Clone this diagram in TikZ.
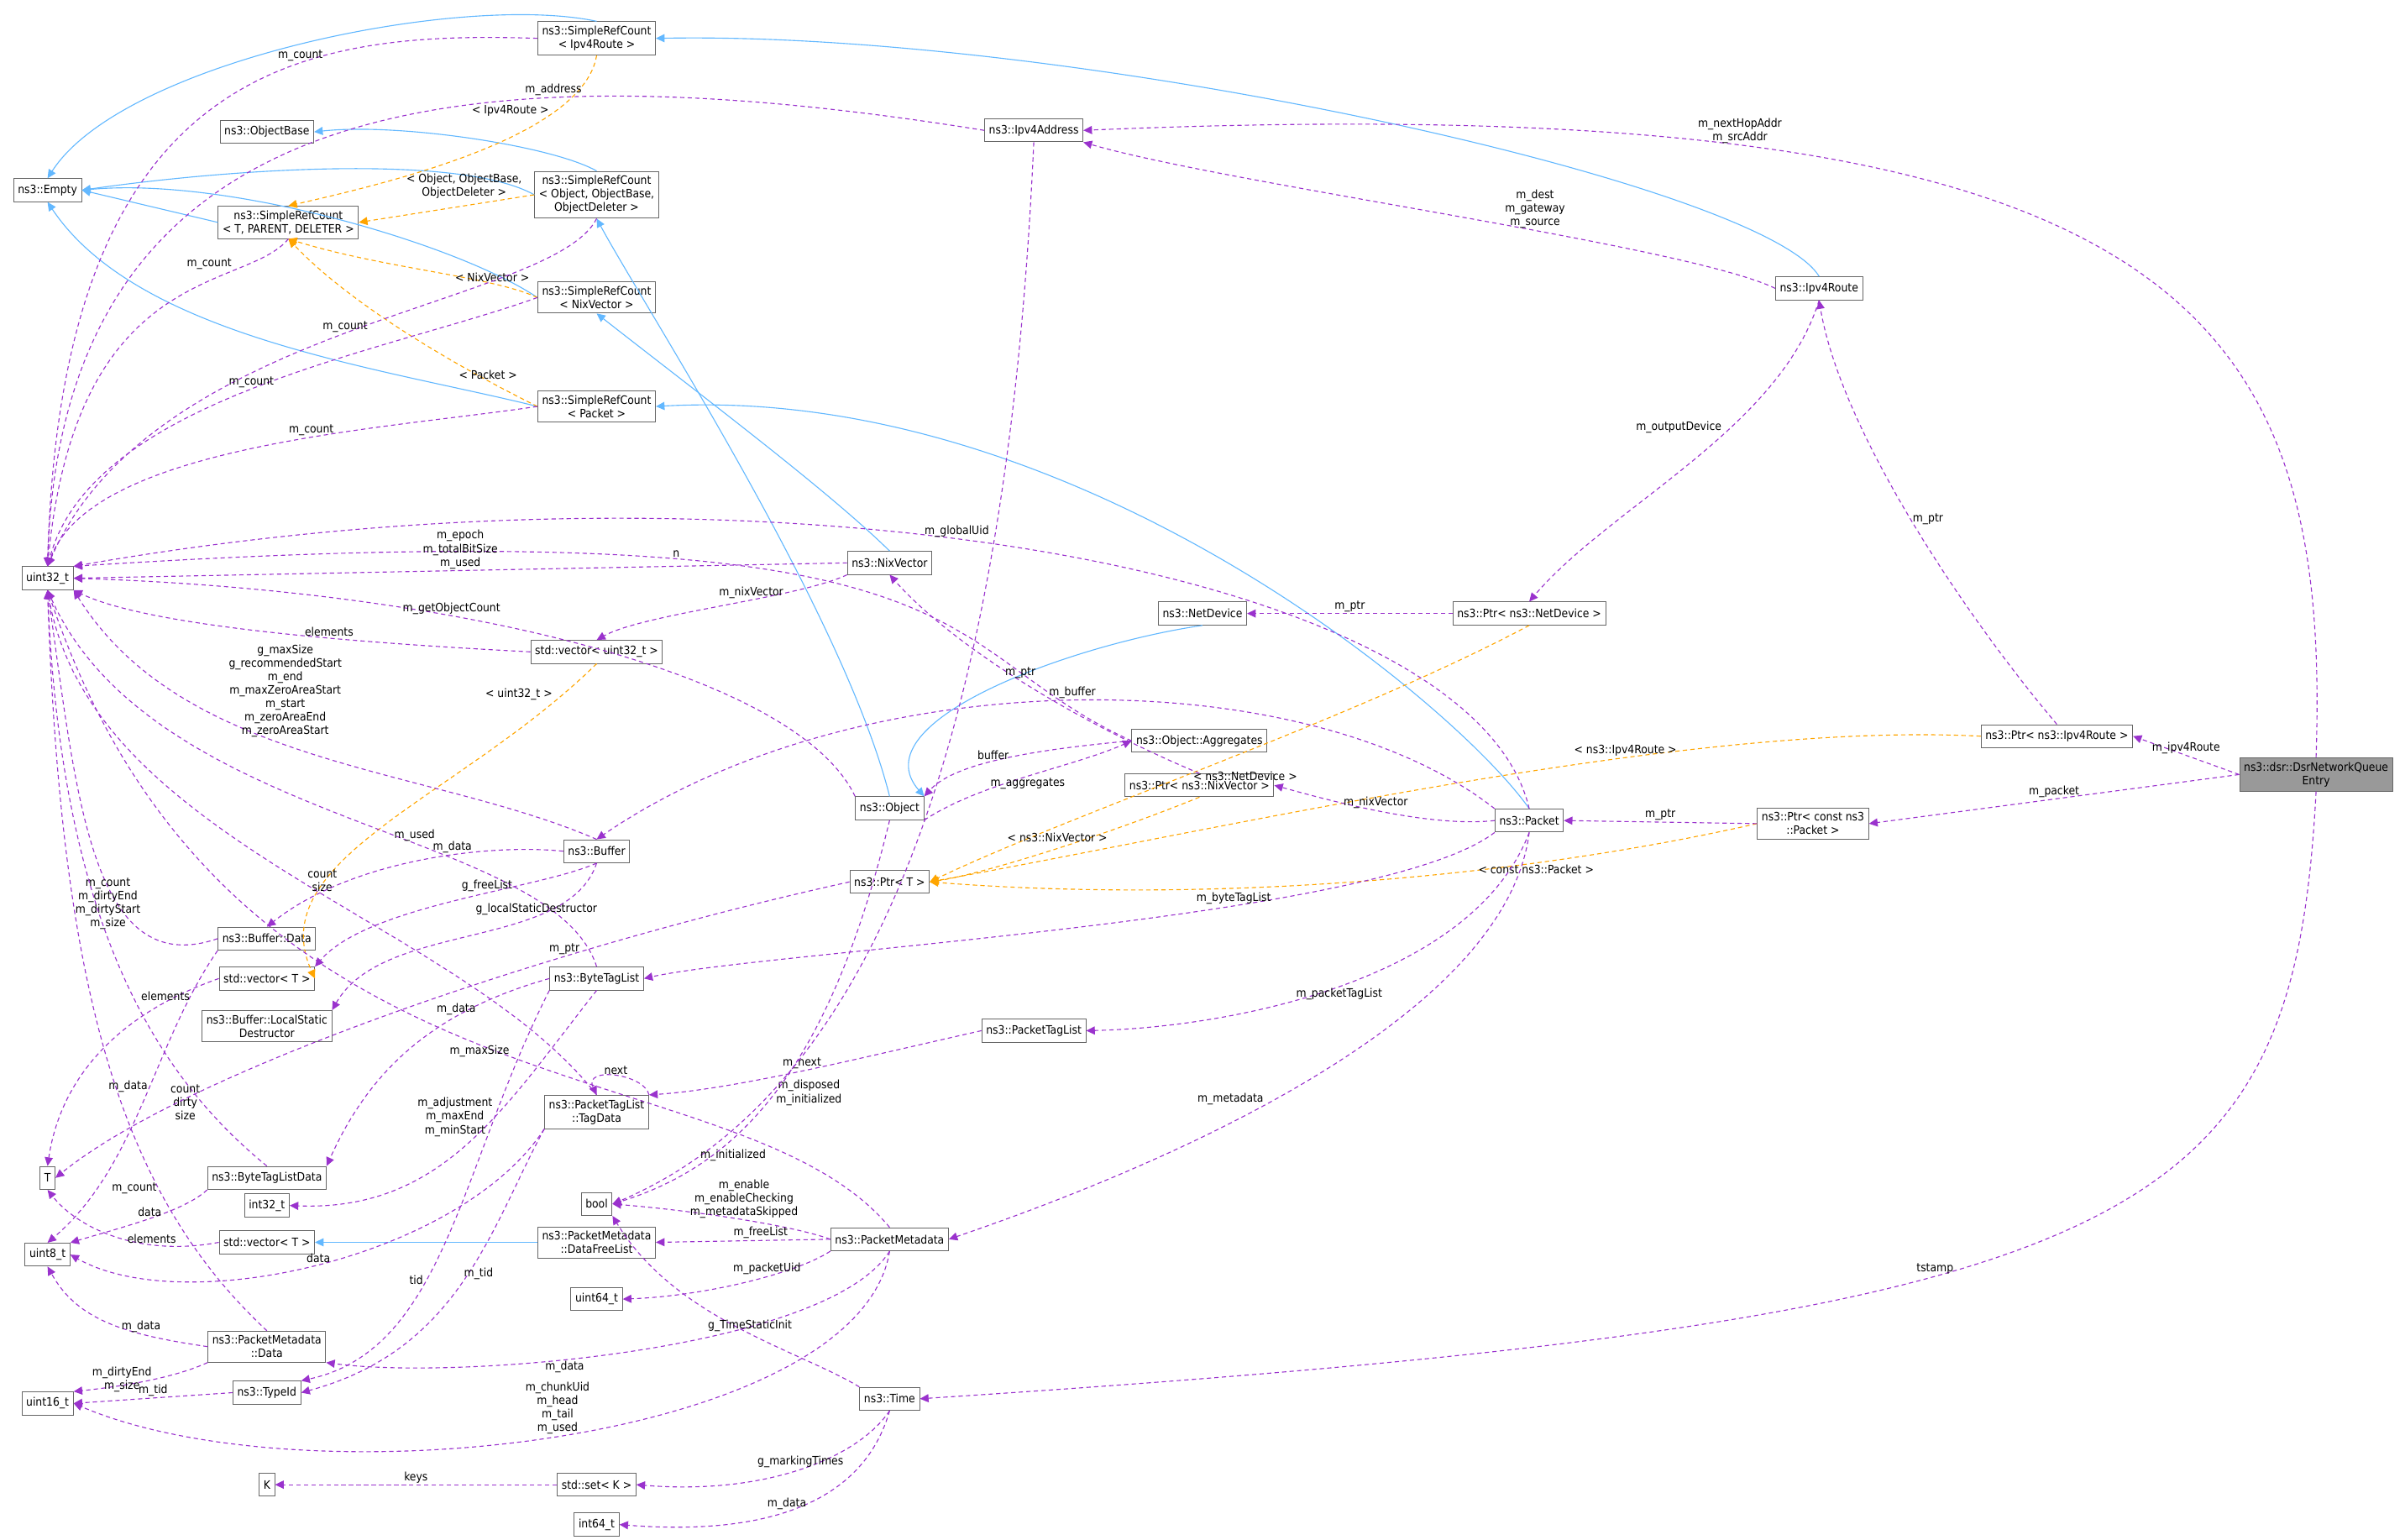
\documentclass[tikz,border=0pt]{standalone}
\usepackage{fontspec}
\setmainfont{DejaVu Sans Condensed}
\usetikzlibrary{arrows.meta}
\definecolor{mbr}{HTML}{9A32CD}
\definecolor{inh}{HTML}{63B8FF}
\definecolor{tpl}{HTML}{FFA500}
\begin{document}
\begin{tikzpicture}[
        x={(0.02cm,0)}, y={(0,-0.02cm)},
        font=\fontsize{4.3}{5}\selectfont,
        cls/.style={rectangle, draw=black!60, fill=white, inner sep=1.6pt, minimum height=0.3cm, align=center, line width=0.3pt},
        focus/.style={cls, fill=black!40},
        member/.style={-{Triangle[length=3.2pt,width=3pt]}, draw=mbr, dash pattern=on 1.6pt off 1.2pt, line width=0.35pt},
        derive/.style={-{Triangle[length=3.2pt,width=3pt]}, draw=inh, line width=0.35pt},
        templ/.style={-{Triangle[length=3.2pt,width=3pt]}, draw=tpl, dash pattern=on 1.6pt off 1.2pt, line width=0.35pt},
        lbl/.style={align=center, inner sep=0.5pt}
    ]
        \useasboundingbox (0,0) rectangle (1568,1004);

        % Classes, left column
        \node[cls] (empty) at (31,124) {ns3::Empty};
        \node[cls] (uint32) at (31,377) {uint32\_t};
        \node[cls] (tt) at (31,768) {T};
        \node[cls] (uint8) at (31,818) {uint8\_t};
        \node[cls] (uint16) at (31,915) {uint16\_t};

        % Classes, second column
        \node[cls] (objbase) at (174,86) {ns3::ObjectBase};
        \node[cls] (srct) at (188,145) {ns3::SimpleRefCount\\< T, PARENT, DELETER >};
        \node[cls] (bufdata) at (174,612) {ns3::Buffer::Data};
        \node[cls] (vect) at (174,638) {std::vector< T >};
        \node[cls] (localdtor) at (174,669) {ns3::Buffer::LocalStatic\\Destructor};
        \node[cls] (btldata) at (174,768) {ns3::ByteTagListData};
        \node[cls] (int32) at (174,786) {int32\_t};
        \node[cls] (vect2) at (174,810) {std::vector< T >};
        \node[cls] (pmdata) at (174,878) {ns3::PacketMetadata\\::Data};
        \node[cls] (typeid) at (174,908) {ns3::TypeId};
        \node[cls] (kk) at (174,968) {K};

        % Classes, third column
        \node[cls] (srcipv4) at (389,25) {ns3::SimpleRefCount\\< Ipv4Route >};
        \node[cls] (srcobj) at (389,127) {ns3::SimpleRefCount\\< Object, ObjectBase,\\ObjectDeleter >};
        \node[cls] (srcnix) at (389,194) {ns3::SimpleRefCount\\< NixVector >};
        \node[cls] (srcpkt) at (389,265) {ns3::SimpleRefCount\\< Packet >};
        \node[cls] (vecu32) at (389,425) {std::vector< uint32\_t >};
        \node[cls] (buffer) at (389,555) {ns3::Buffer};
        \node[cls] (btl) at (389,638) {ns3::ByteTagList};
        \node[cls] (tagdata) at (389,725) {ns3::PacketTagList\\::TagData};
        \node[cls] (bool) at (389,785) {bool};
        \node[cls] (freelist) at (389,810) {ns3::PacketMetadata\\::DataFreeList};
        \node[cls] (uint64) at (389,847) {uint64\_t};
        \node[cls] (setk) at (389,968) {std::set< K >};
        \node[cls] (int64) at (389,994) {int64\_t};

        % Classes, fourth column
        \node[cls] (ipv4addr) at (674,85) {ns3::Ipv4Address};
        \node[cls] (nixvec) at (580,367) {ns3::NixVector};
        \node[cls] (object) at (580,527) {ns3::Object};
        \node[cls] (ptrt) at (580,575) {ns3::Ptr< T >};
        \node[cls] (ptl) at (674,672) {ns3::PacketTagList};
        \node[cls] (pktmeta) at (580,808) {ns3::PacketMetadata};
        \node[cls] (time) at (580,912) {ns3::Time};

        % Classes, fifth column
        \node[cls] (netdev) at (784,400) {ns3::NetDevice};
        \node[cls] (aggr) at (782,483) {ns3::Object::Aggregates};
        \node[cls] (ptrnix) at (782,512) {ns3::Ptr< ns3::NixVector >};
        \node[cls] (ptrdev) at (997,400) {ns3::Ptr< ns3::NetDevice >};
        \node[cls] (packet) at (997,535) {ns3::Packet};

        % Classes, right side
        \node[cls] (ipv4route) at (1186,188) {ns3::Ipv4Route};
        \node[cls] (ptrroute) at (1341,480) {ns3::Ptr< ns3::Ipv4Route >};
        \node[cls] (ptrpkt) at (1182,537) {ns3::Ptr< const ns3\\::Packet >};
        \node[focus] (entry) at (1510,505) {ns3::dsr::DsrNetworkQueue\\Entry};

        % Inheritance
        \draw[derive] (srcipv4.north) .. controls (300,-5) and (80,40) .. (empty.north);
        \draw[derive] (srcobj.west) .. controls (300,100) and (150,110) .. (empty.east);
        \draw[derive] (srcobj.north) .. controls (360,95) and (260,80) .. (objbase.east);
        \draw[derive] (srct.west) -- (empty.east);
        \draw[derive] (srcnix.west) .. controls (300,160) and (150,115) .. (empty.east);
        \draw[derive] (srcpkt.west) .. controls (250,240) and (90,220) .. (empty.south);
        \draw[derive] (ipv4route.north) .. controls (1150,120) and (700,20) .. (srcipv4.east);
        \draw[derive] (nixvec.north) .. controls (540,320) and (460,260) .. (srcnix.south);
        \draw[derive] (object.north) .. controls (550,400) and (420,200) .. (srcobj.south);
        \draw[derive] (packet.north) .. controls (950,460) and (700,250) .. (srcpkt.east);
        \draw[derive] (netdev.south) .. controls (700,420) and (560,470) .. (object.north east);
        \draw[derive] (freelist.west) -- (vect2.east);

        % Template instances
        \draw[templ] (srcipv4.south) .. controls (380,90) and (250,120) .. node[lbl,pos=.25,left=2pt]{< Ipv4Route >} (srct.north);
        \draw[templ] (srcobj.west) -- node[lbl,pos=.4,above=2pt]{< Object, ObjectBase,\\ObjectDeleter >} (srct.east);
        \draw[templ] (srcnix.west) .. controls (320,180) and (250,175) .. node[lbl,pos=.25,above]{< NixVector >} (srct.south);
        \draw[templ] (srcpkt.west) .. controls (300,240) and (230,200) .. node[lbl,pos=.2,above]{< Packet >} (srct.south);
        \draw[templ] (vecu32.south) .. controls (300,520) and (170,560) .. node[lbl,pos=.1,above left]{< uint32\_t >} (vect.east);
        \draw[templ] (ptrdev.south) .. controls (880,470) and (700,530) .. node[lbl,pos=.55,right=3pt]{< ns3::NetDevice >} (ptrt.east);
        \draw[templ] (ptrroute.west) .. controls (1100,470) and (800,540) .. node[lbl,pos=.35,above]{< ns3::Ipv4Route >} (ptrt.east);
        \draw[templ] (ptrnix.south) .. controls (720,545) and (640,570) .. node[lbl,pos=.3,below left]{< ns3::NixVector >} (ptrt.east);
        \draw[templ] (ptrpkt.west) .. controls (1000,570) and (800,590) .. node[lbl,pos=.3,below]{< const ns3::Packet >} (ptrt.east);

        % Members pointing to uint32_t
        \draw[member] (srcipv4.west) .. controls (200,20) and (40,40) .. node[lbl,pos=.35,above]{m\_count} (uint32.north);
        \draw[member] (srct.south) .. controls (160,190) and (50,170) .. node[lbl,pos=.2,left=6pt]{m\_count} (uint32.north);
        \draw[member] (srcobj.south) .. controls (360,200) and (100,210) .. node[lbl,pos=.5,above]{m\_count} (uint32.north);
        \draw[member] (srcnix.west) .. controls (250,230) and (60,260) .. node[lbl,pos=.5,above]{m\_count} (uint32.north);
        \draw[member] (srcpkt.west) .. controls (250,280) and (60,290) .. node[lbl,pos=.4,above]{m\_count} (uint32.north);
        \draw[member] (ipv4addr.west) .. controls (300,30) and (40,60) .. node[lbl,pos=.3,above]{m\_address} (uint32.north);
        \draw[member] (packet.north) .. controls (960,370) and (500,290) .. node[lbl,pos=.55,above]{m\_globalUid} (uint32.north east);
        \draw[member] (aggr.west) .. controls (600,420) and (660,330) .. node[lbl,pos=.7,above]{n} (uint32.north east);
        \draw[member] (nixvec.west) -- node[lbl,pos=.5,above]{m\_epoch\\m\_totalBitSize\\m\_used} (uint32.east);
        \draw[member] (object.north west) .. controls (520,440) and (300,385) .. node[lbl,pos=.65,above]{m\_getObjectCount} (uint32.east);
        \draw[member] (vecu32.west) .. controls (250,420) and (100,410) .. node[lbl,pos=.4,above]{elements} (uint32.south east);
        \draw[member] (buffer.north) .. controls (280,500) and (120,500) .. node[lbl,pos=.55,above=2pt]{g\_maxSize\\g\_recommendedStart\\m\_end\\m\_maxZeroAreaStart\\m\_start\\m\_zeroAreaEnd\\m\_zeroAreaStart} (uint32.south east);
        \draw[member] (btl.north) .. controls (360,540) and (100,540) .. node[lbl,pos=.4,above]{m\_used} (uint32.south);
        \draw[member] (tagdata.north) .. controls (300,600) and (60,550) .. node[lbl,pos=.45,above]{count\\size} (uint32.south);
        \draw[member] (bufdata.west) .. controls (60,640) and (50,520) .. node[lbl,pos=.25,above left]{m\_count\\m\_dirtyEnd\\m\_dirtyStart\\m\_size} (uint32.south);
        \draw[member] (btldata.north) .. controls (100,700) and (40,600) .. node[lbl,pos=.2,left]{count\\dirty\\size} (uint32.south);
        \draw[member] (pmdata.north) .. controls (80,780) and (40,650) .. node[lbl,pos=.3,left]{m\_count} (uint32.south);
        \draw[member] (pktmeta.north) .. controls (480,680) and (150,740) .. node[lbl,pos=.5,below]{m\_maxSize} (uint32.south);

        % Members on the right
        \draw[member] (entry.north) .. controls (1520,200) and (1420,55) .. node[lbl,pos=.75,above]{m\_nextHopAddr\\m\_srcAddr} (ipv4addr.east);
        \draw[member] (ipv4route.west) .. controls (1100,160) and (800,120) .. node[lbl,pos=.4,above]{m\_dest\\m\_gateway\\m\_source} (ipv4addr.south east);
        \draw[member] (ipv4route.south) .. controls (1160,280) and (1050,330) .. node[lbl,pos=.4,above left]{m\_outputDevice} (ptrdev.north);
        \draw[member] (ptrdev.west) -- node[lbl,pos=.5,above]{m\_ptr} (netdev.east);
        \draw[member] (ptrroute.north) .. controls (1280,400) and (1200,280) .. node[lbl,pos=.5,right]{m\_ptr} (ipv4route.south);
        \draw[member] (entry.west) -- node[lbl,pos=.5,above]{m\_ipv4Route} (ptrroute.east);
        \draw[member] (entry.west) -- node[lbl,pos=.5,above]{m\_packet} (ptrpkt.east);
        \draw[member] (ptrpkt.west) -- node[lbl,pos=.5,above]{m\_ptr} (packet.east);
        \draw[member] (entry.south) .. controls (1495,800) and (1400,860) .. node[lbl,pos=.6,above]{tstamp} (time.east);

        % Members of Packet and Object
        \draw[member] (packet.north west) .. controls (850,430) and (560,430) .. node[lbl,pos=.5,above]{m\_buffer} (buffer.north);
        \draw[member] (object.south east) .. controls (640,510) and (700,500) .. node[lbl,pos=.5,below]{m\_aggregates} (aggr.west);
        \draw[member] (aggr.west) .. controls (660,490) and (620,500) .. node[lbl,pos=.5,above]{buffer} (object.north east);
        \draw[member] (nixvec.south west) .. controls (520,390) and (420,400) .. node[lbl,pos=.4,above]{m\_nixVector} (vecu32.north);
        \draw[member] (packet.west) .. controls (930,540) and (860,520) .. node[lbl,pos=.5,above]{m\_nixVector} (ptrnix.east);
        \draw[member] (ptrnix.north) .. controls (700,470) and (620,420) .. node[lbl,pos=.5,above]{m\_ptr} (nixvec.south);
        \draw[member] (packet.south west) .. controls (900,600) and (500,620) .. node[lbl,pos=.35,above]{m\_byteTagList} (btl.east);
        \draw[member] (packet.south) .. controls (960,640) and (800,670) .. node[lbl,pos=.5,below]{m\_packetTagList} (ptl.east);
        \draw[member] (packet.south) .. controls (980,680) and (700,780) .. node[lbl,pos=.5,left=4pt]{m\_metadata} (pktmeta.east);

        % Members of the buffer and tag lists
        \draw[member] (buffer.west) .. controls (320,550) and (230,560) .. node[lbl,pos=.4,above]{m\_data} (bufdata.north);
        \draw[member] (buffer.south) .. controls (350,580) and (240,590) .. node[lbl,pos=.4,above]{g\_freeList} (vect.north east);
        \draw[member] (buffer.south) .. controls (370,620) and (250,600) .. node[lbl,pos=.3,above]{g\_localStaticDestructor} (localdtor.north east);
        \draw[member] (bufdata.south west) .. controls (100,680) and (90,760) .. node[lbl,pos=.45,left]{m\_data} (uint8.north);
        \draw[member] (vect.west) .. controls (80,660) and (40,700) .. node[lbl,pos=.2,above]{elements} (tt.north);
        \draw[member] (btl.west) .. controls (280,660) and (240,700) .. node[lbl,pos=.3,above]{m\_data} (btldata.north east);
        \draw[member] (btl.south) .. controls (330,720) and (290,790) .. node[lbl,pos=.4,left]{m\_adjustment\\m\_maxEnd\\m\_minStart} (int32.east);
        \draw[member] (ptrt.west) .. controls (350,620) and (120,700) .. node[lbl,pos=.3,above]{m\_ptr} (tt.east);
        \draw[member] (ptl.west) .. controls (560,690) and (480,710) .. node[lbl,pos=.5,above]{m\_next} (tagdata.north east);
        \draw[member] (tagdata.north east) .. controls (420,700) and (380,695) .. node[lbl,above]{next} (tagdata.north);
        \draw[member] (tagdata.south west) .. controls (320,800) and (300,880) .. node[lbl,pos=.5,above right]{m\_tid} (typeid.east);
        \draw[member] (tagdata.south west) .. controls (300,820) and (120,860) .. node[lbl,pos=.5,above]{data} (uint8.east);
        \draw[member] (btldata.south west) .. controls (120,790) and (80,800) .. node[lbl,pos=.5,above]{data} (uint8.north east);
        \draw[member] (vect2.west) .. controls (90,820) and (50,800) .. node[lbl,pos=.3,above]{elements} (tt.south);
        \draw[member] (btl.south west) .. controls (300,760) and (290,880) .. node[lbl,pos=.6,left]{tid} (typeid.north east);

        % Members of Object, PacketMetadata and Time
        \draw[member] (object.south) .. controls (540,700) and (480,760) .. node[lbl,pos=.5,right]{m\_disposed\\m\_initialized} (bool.east);
        \draw[member] (ipv4addr.south) .. controls (660,400) and (600,700) .. node[lbl,pos=.9,right]{m\_initialized} (bool.east);
        \draw[member] (pktmeta.west) .. controls (520,800) and (460,790) .. node[lbl,pos=.5,above]{m\_enable\\m\_enableChecking\\m\_metadataSkipped} (bool.east);
        \draw[member] (pktmeta.west) -- node[lbl,pos=.4,above]{m\_freeList} (freelist.east);
        \draw[member] (pktmeta.south west) .. controls (520,830) and (460,845) .. node[lbl,pos=.4,above]{m\_packetUid} (uint64.east);
        \draw[member] (pktmeta.south) .. controls (540,880) and (300,900) .. node[lbl,pos=.6,below]{m\_data} (pmdata.south east);
        \draw[member] (pktmeta.south) .. controls (560,940) and (200,980) .. node[lbl,pos=.5,above]{m\_chunkUid\\m\_head\\m\_tail\\m\_used} (uint16.east);
        \draw[member] (pmdata.west) .. controls (80,870) and (50,860) .. node[lbl,pos=.3,above]{m\_data} (uint8.south);
        \draw[member] (pmdata.south west) .. controls (110,900) and (70,905) .. node[lbl,pos=.4,left]{m\_dirtyEnd\\m\_size} (uint16.north east);
        \draw[member] (typeid.west) -- node[lbl,pos=.5,above]{m\_tid} (uint16.east);
        \draw[member] (time.north west) .. controls (520,880) and (440,860) .. node[lbl,pos=.45,above]{g\_TimeStaticInit} (bool.south east);
        \draw[member] (time.south) .. controls (560,950) and (500,975) .. node[lbl,pos=.5,above]{g\_markingTimes} (setk.east);
        \draw[member] (time.south) .. controls (560,990) and (480,1000) .. node[lbl,pos=.5,above]{m\_data} (int64.east);
        \draw[member] (setk.west) -- node[lbl,pos=.5,above]{keys} (kk.east);
    \end{tikzpicture}
\end{document}
